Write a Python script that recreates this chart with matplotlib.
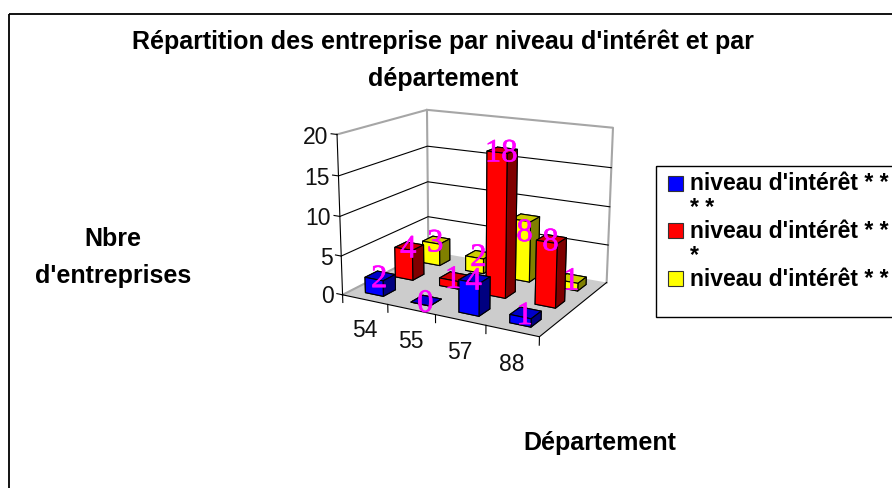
import numpy as np
import matplotlib
matplotlib.use("Agg")
import matplotlib.pyplot as plt
import matplotlib.patheffects as pe
from matplotlib.patches import Rectangle
from mpl_toolkits.mplot3d import proj3d
from mpl_toolkits.mplot3d.art3d import Poly3DCollection

departements = ["54", "55", "57", "88"]
niveau_4 = [2, 0, 4, 1]
niveau_3 = [4, 1, 18, 8]
niveau_2 = [3, 2, 8, 1]
z_ticks = [0, 5, 10, 15, 20]
legend_labels = ["niveau d'intérêt * *\n* *", "niveau d'intérêt * *\n*", "niveau d'intérêt * *"]

# (front, top, right side) colours of each series
blue = ("#0000ff", "#0000c8", "#000080")
red = ("#ff0000", "#cc0000", "#800000")
yellow = ("#ffff00", "#cccc00", "#808000")

W, H = 892, 488

# corners of the excel box as seen in the picture, to get the camera
box_3d = [(0, 0, 0), (4, 0, 0), (0, 3, 0), (4, 3, 0), (0, 0, 20), (0, 3, 20), (4, 3, 20)]
box_px = [(343, 295), (539, 337), (428, 251), (607, 282), (337, 134), (427, 110), (613, 128)]


def camera(pts, px):
    A = []
    b = []
    for (x, y, z), (u, v) in zip(pts, px):
        A.append([x, y, z, 1, 0, 0, 0, 0, -u * x, -u * y, -u * z])
        b.append(u)
        A.append([0, 0, 0, 0, x, y, z, 1, -v * x, -v * y, -v * z])
        b.append(v)
    p = np.linalg.lstsq(np.array(A, float), np.array(b, float), rcond=None)[0]
    # third row only serves the depth sort: farther is bigger
    return np.array([p[0:4], p[4:8], [0, 0, 0, -1], [p[8], p[9], p[10], 1]])


plt.rcParams["font.family"] = ["Liberation Sans", "DejaVu Sans"]
fig = plt.figure(figsize=(W / 100, H / 100), dpi=100)

# 3d axes stays square, so it is taller than the figure
ax = fig.add_axes([0, (H - W) / 2 / H, 1, W / H], projection="3d")
ax.set_axis_off()
ax.computed_zorder = False
ax.set_proj_type("ortho")  # otherwise 3d lines get clipped, the camera is ours anyway
M = camera(box_3d, box_px)
ax.get_proj = lambda: M
ax.viewLim.intervalx = (0, W)
ax.viewLim.intervaly = (H + (W - H) / 2, -(W - H) / 2)

# flat overlay in picture pixels for the texts and the legend
ov = fig.add_axes([0, 0, 1, 1], zorder=5)
ov.set_xlim(0, W)
ov.set_ylim(H, 0)
ov.axis("off")


def text3d(x, y, z, s, dx=0, dy=0, **kw):
    u, v, _ = proj3d.proj_transform(x, y, z, M)
    return ov.text(u + dx, v + dy, s, va="center", **kw)


# walls and floor
ax.add_collection3d(Poly3DCollection([[(0, 0, 0), (4, 0, 0), (4, 3, 0), (0, 3, 0)]],
                                     facecolor="#cccccc", edgecolor="none", zorder=1))
grey = "#a6a6a6"
ax.plot([0, 0, 0], [0, 3, 3], [20, 20, 0], color=grey, lw=1.5, zorder=2)
ax.plot([0, 4, 4], [3, 3, 3], [20, 20, 0], color=grey, lw=1.5, zorder=2)
ax.plot([0, 0], [0, 3], [0, 0], color=grey, lw=1.5, zorder=2)
for z in z_ticks[1:-1]:
    ax.plot([0, 0, 4], [0, 3, 3], [z, z, z], color="black", lw=0.8, zorder=2)

# axes lines and ticks
ax.plot([0, 0], [0, 0], [0, 20], color="black", lw=0.8, zorder=3)
ax.plot([0, 4, 4], [0, 0, 3], [0, 0, 0], color="black", lw=0.8, zorder=3)
for i in range(5):
    ax.plot([i, i], [0, 0], [0, -1], color="black", lw=0.8, zorder=3)
for z in z_ticks:
    ax.plot([0, -0.13], [0, 0], [z, z], color="black", lw=0.8, zorder=3)
    text3d(-0.2, 0, z, str(z), dy=4, ha="right", fontsize=16.5, color="#111111")
for i, d in enumerate(departements):
    text3d(i + 0.55, -0.1, -3.7, d, ha="center", fontsize=16.5, color="#111111")

# bars, back row first
bar_w = 0.4
series = [(2, niveau_2, yellow), (1, niveau_3, red), (0, niveau_4, blue)]
order = 10
for row, values, col in series:
    for i, v in enumerate(values):
        front, top, side = col
        ax.bar3d(i + 0.5 - bar_w / 2, row + 0.5 - bar_w / 2, 0, bar_w, bar_w, v,
                 color=[top, top, front, front, side, side],
                 edgecolor="black", linewidth=0.8, shade=False, zorder=order)
        order += 1

for row, values, col in series:
    for i, v in enumerate(values):
        # the yellow 8 sits lower on its bar in the original
        shift = 15 if (row == 2 and i == 2) else 3
        t = text3d(i + 0.5, row + 0.5, v, str(v), dx=-1, dy=shift, ha="center", color="#ff00ff",
                   fontsize=23.5, family="Liberation Serif")
        t.set_path_effects([pe.withStroke(linewidth=0.4, foreground="#ff00ff")])

ov.add_patch(Rectangle((9, 14), W, H, fill=False, edgecolor="black", lw=1.3))
ov.text(443, 60, "Répartition des entreprise par niveau d'intérêt et par\ndépartement",
        ha="center", va="center", fontsize=18, fontweight="bold", linespacing=1.66)
ov.text(113, 257.5, "Nbre\nd'entreprises", ha="center", va="center", fontsize=18,
        fontweight="bold", linespacing=1.66)
ov.text(600, 443, "Département", ha="center", va="center", fontsize=18, fontweight="bold")

ov.add_patch(Rectangle((656, 166), W, 151, fill=False, edgecolor="black", lw=1))
legend_y = [183.5, 230.5, 278.5]
for y, lab, col in zip(legend_y, legend_labels, (blue, red, yellow)):
    ov.add_patch(Rectangle((668, y - 7.5), 15, 15, facecolor=col[0], edgecolor="#333333", lw=0.8))
    ov.text(690, y - 11, lab, ha="left", va="top", fontsize=16.5, fontweight="bold", linespacing=1.1)

fig.savefig("out.png", dpi=100)
